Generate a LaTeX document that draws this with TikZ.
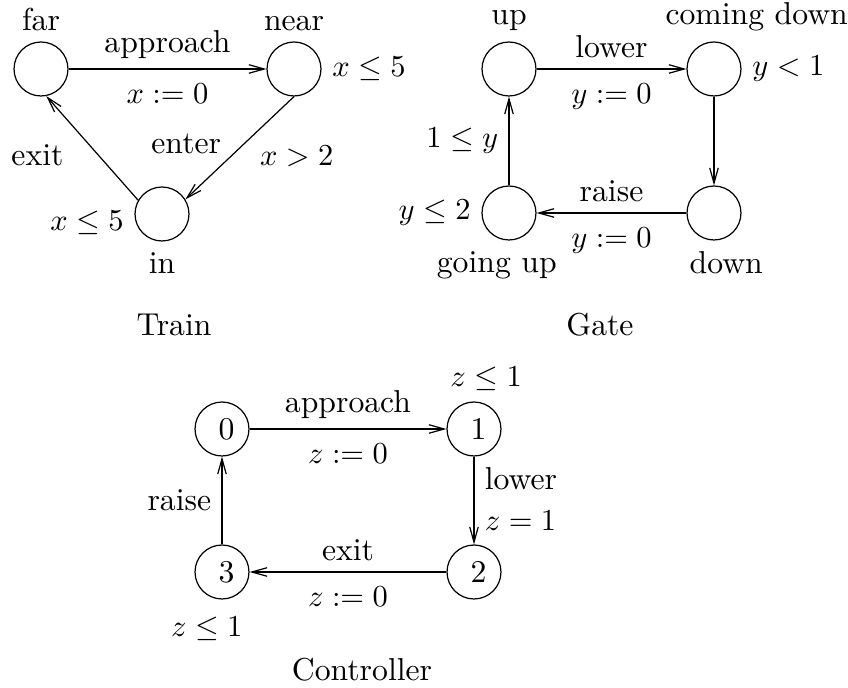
\documentclass[tikz,border=0pt]{standalone}
\usepackage{amssymb,amsmath}
\usetikzlibrary{arrows.meta}
\tikzstyle{state}=[draw,circle,minimum size=17.7pt,inner sep=0pt]
\tikzstyle{trans}=[->,>={Straight Barb[length=5pt,width=2.8pt]}]
\begin{document}
\begin{tikzpicture}[x=0.328pt,y=-0.328pt,font=\fontsize{10.4pt}{12.5pt}\selectfont]
\useasboundingbox (0,0) rectangle (848,688);
% Train
\node[state,label=above:far] (far) at (41,69) {};
\node[state,label=above:near,label=right:$x\leq 5$] (near) at (294,69) {};
\node[state,label=below:in,label={[yshift=-3pt]left:$x\leq 5$}] (in) at (162,214) {};
\draw[trans] (far) -- node[above]{approach} node[below=1.5pt]{$x:=0$} (near);
\draw[trans] (near.south) -- node[pos=0.46,left=4pt]{enter} node[pos=0.58,right=6pt]{$x>2$} (in.32);
\draw[trans] (in.150) -- node[pos=0.43,left=8pt]{exit} (far.281);
\node (train) at (174,325) {Train};
% Gate
\node[state,label=above:up] (up) at (509,69) {};
\node[state,label={[xshift=14pt]above:coming down},label=right:$y<1$] (cdown) at (714,69) {};
\node[state,label={[xshift=4pt]below:down}] (down) at (714,213) {};
\node[state,label={[xshift=-4pt]below:going up},label=left:$y\leq 2$] (gup) at (509,213) {};
\draw[trans] (up) -- node[above]{lower} node[below=1.5pt]{$y:=0$} (cdown);
\draw[trans] (cdown) -- (down);
\draw[trans] (down) -- node[above]{raise} node[below=1.5pt]{$y:=0$} (gup);
\draw[trans] (gup) -- node[left]{$1\leq y$} (up);
\node (gate) at (600,325) {Gate};
% Controller
\node[state] (c0) at (222,429) {\hspace{3pt}0};
\node[state,label={[xshift=4pt]above:$z\leq 1$}] (c1) at (474,429) {\hspace{3pt}1};
\node[state] (c2) at (474,572) {\hspace{3pt}2};
\node[state,label={[xshift=-5pt,label distance=2pt]below:$z\leq 1$}] (c3) at (222,572) {\hspace{3pt}3};
\draw[trans] (c0) -- node[above]{approach} node[below=1.5pt]{$z:=0$} (c1);
\draw[trans] (c1) -- node[above right]{lower} node[below right]{$z=1$} (c2);
\draw[trans] (c2) -- node[above]{exit} node[below=1.5pt]{$z:=0$} (c3);
\draw[trans] (c3) -- node[left]{raise} (c0);
\node (ctrl) at (362,670) {Controller};
\end{tikzpicture}
\end{document}
